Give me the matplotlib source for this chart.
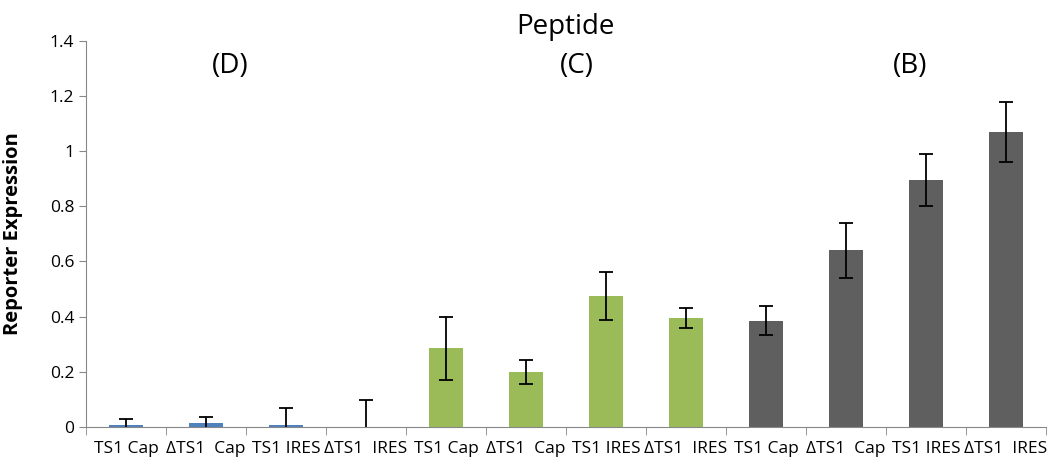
import numpy as np
import matplotlib.pyplot as plt

labels = ['TS1 Cap', '\u0394TS1  Cap', 'TS1 IRES', '\u0394TS1  IRES',
          'TS1 Cap', '\u0394TS1  Cap', 'TS1 IRES', '\u0394TS1  IRES',
          'TS1 Cap', '\u0394TS1  Cap', 'TS1 IRES', '\u0394TS1  IRES']
values = [0.005, 0.015, 0.005, 0.0, 0.285, 0.20, 0.475, 0.395, 0.385, 0.64, 0.895, 1.07]
errors = [0.025, 0.02, 0.065, 0.097, 0.115, 0.043, 0.088, 0.037, 0.052, 0.10, 0.095, 0.11]
groups = ['D'] * 4 + ['C'] * 4 + ['B'] * 4
group_names = ['(D)', '(C)', '(B)']
group_pos = [1.3, 5.64, 9.8]

colors = {'D': '#4F81BD', 'C': '#9BBB59', 'B': '#5F5F5F'}

plt.rcParams['font.family'] = ['Open Sans', 'DejaVu Sans']

fig = plt.figure(figsize=(10.49, 4.65), dpi=100)
ax = fig.add_axes([0.082, 0.082, 0.915, 0.83])

x = np.arange(len(values))
ax.bar(x, values, width=0.42, color=[colors[g] for g in groups],
       yerr=errors, capsize=5, error_kw={'elinewidth': 1.3, 'capthick': 1.3, 'ecolor': 'black'})

ax.set_xlim(-0.5, len(values) - 0.5)
ax.set_ylim(0, 1.4)
ax.set_yticks(np.arange(0, 1.41, 0.2))
ax.set_yticklabels(['0', '0.2', '0.4', '0.6', '0.8', '1', '1.2', '1.4'])
ax.set_xticks(x)
ax.set_xticklabels(labels, fontsize=12.5)
ax.set_xticks(np.arange(-0.5, len(values)), minor=True)
ax.tick_params(axis='x', which='major', length=0, pad=10)
ax.tick_params(axis='x', which='minor', length=6, color='#888888')
ax.tick_params(axis='y', length=5, color='#888888', labelsize=12.5)

for s in ['top', 'right']:
    ax.spines[s].set_visible(False)
for s in ['left', 'bottom']:
    ax.spines[s].set_color('#888888')

ax.set_ylabel('Reporter Expression', fontsize=14.5, fontweight='bold')
ax.yaxis.set_label_coords(-0.066, 0.5)
ax.set_title('Peptide', fontsize=20, pad=4)

for name, pos in zip(group_names, group_pos):
    ax.text(pos, 1.31, name, fontsize=20, ha='center', va='center')

fig.savefig('out.png', dpi=100)
